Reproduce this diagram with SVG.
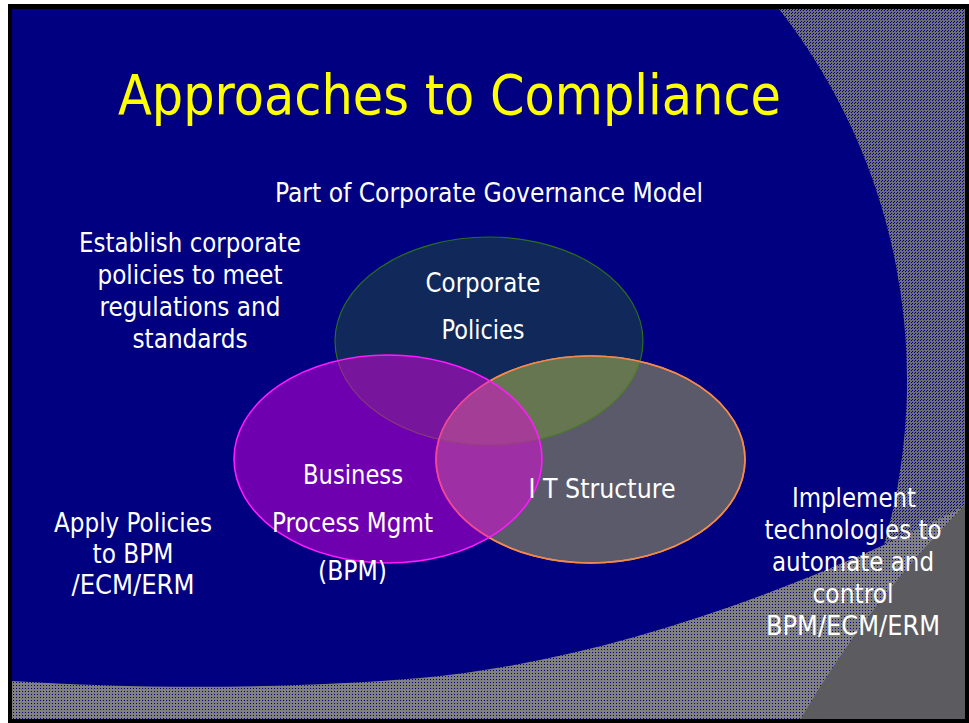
<svg xmlns="http://www.w3.org/2000/svg" width="969" height="723" viewBox="0 0 969 723">
  <style>
    .lbl { font-family: "DejaVu Sans Condensed", "DejaVu Sans", sans-serif; font-size: 26px; fill: #ffffff; text-anchor: middle; }
    .title { font-family: "DejaVu Sans Condensed", "DejaVu Sans", sans-serif; font-size: 55px; fill: #ffff00; }
    .corp { fill: #10295a; stroke: #2a6e1e; stroke-width: 1.2; }
    .it { fill: #5a5a6a; stroke: #f4894b; stroke-width: 1.6; }
    .bpm { fill: #e800e4; fill-opacity: 0.48; stroke: #ff1aff; stroke-width: 1.6; }
  </style>
  <defs>
    <pattern id="dots-dark" width="3" height="3" patternUnits="userSpaceOnUse">
      <rect width="3" height="3" fill="#6e6e78"/>
      <rect x="0" y="0" width="1" height="1" fill="#000080"/>
      <rect x="2" y="1" width="1" height="1" fill="#000080"/>
    </pattern>
    <pattern id="dots-light" width="3" height="3" patternUnits="userSpaceOnUse">
      <rect width="3" height="3" fill="#808080"/>
      <rect x="1" y="1" width="1" height="1" fill="#000080"/>
    </pattern>
    <clipPath id="slide-area">
      <rect x="12" y="9" width="953" height="710"/>
    </clipPath>
    <clipPath id="it-shape">
      <ellipse cx="590.5" cy="459.5" rx="154.5" ry="103.5"/>
    </clipPath>
  </defs>

  <!-- page, frame and slide background -->
  <rect width="969" height="723" fill="#ffffff"/>
  <rect x="8" y="4" width="961" height="719" fill="#000000"/>
  <rect x="12" y="9" width="953" height="710" fill="#000080"/>

  <!-- decorative grey sweeps -->
  <g id="background-sweeps" clip-path="url(#slide-area)">
    <path d="M 779,9 A 602 602 0 0 1 884,545 L 965,545 L 965,9 Z" fill="url(#dots-dark)"/>
    <path d="M 12,681 C 150,690 300,688 420,678 C 600,662 800,590 965,506 L 965,719 L 12,719 Z" fill="url(#dots-light)"/>
    <path d="M 967,503 Q 870,600 800,720 L 965,720 Z" fill="#5c5c60"/>
  </g>

  <!-- title -->
  <text class="title" x="118" y="114" textLength="663" lengthAdjust="spacingAndGlyphs">Approaches to Compliance</text>

  <!-- free text -->
  <g id="free-text">
    <text class="lbl" x="489" y="202" textLength="428" lengthAdjust="spacingAndGlyphs">Part of Corporate Governance Model</text>
    <text class="lbl" x="190" y="252" textLength="222" lengthAdjust="spacingAndGlyphs">Establish corporate</text>
    <text class="lbl" x="190" y="284" textLength="185" lengthAdjust="spacingAndGlyphs">policies to meet</text>
    <text class="lbl" x="190" y="316" textLength="181" lengthAdjust="spacingAndGlyphs">regulations and</text>
    <text class="lbl" x="190" y="348" textLength="115" lengthAdjust="spacingAndGlyphs">standards</text>

    <text class="lbl" x="133" y="532" textLength="158" lengthAdjust="spacingAndGlyphs">Apply Policies</text>
    <text class="lbl" x="133" y="563" textLength="81" lengthAdjust="spacingAndGlyphs">to BPM</text>
    <text class="lbl" x="133" y="594" textLength="123" lengthAdjust="spacingAndGlyphs">/ECM/ERM</text>

    <text class="lbl" x="854" y="507" textLength="124" lengthAdjust="spacingAndGlyphs">Implement</text>
    <text class="lbl" x="853" y="539" textLength="177" lengthAdjust="spacingAndGlyphs">technologies to</text>
    <text class="lbl" x="853" y="571" textLength="162" lengthAdjust="spacingAndGlyphs">automate and</text>
    <text class="lbl" x="853" y="603" textLength="81" lengthAdjust="spacingAndGlyphs">control</text>
    <text class="lbl" x="853" y="635" textLength="174" lengthAdjust="spacingAndGlyphs">BPM/ECM/ERM</text>
  </g>

  <!-- Venn nodes -->
  <g id="node-corporate-policies">
    <ellipse class="corp" cx="489" cy="341" rx="154" ry="104"/>
  </g>

  <g id="node-it-structure">
    <ellipse class="it" cx="590.5" cy="459.5" rx="154.5" ry="103.5"/>
    <!-- overlap with the policies circle -->
    <ellipse cx="489" cy="341" rx="154" ry="104" fill="#667650" clip-path="url(#it-shape)"/>
    <ellipse cx="489" cy="341" rx="154" ry="104" fill="none" stroke="#4f7a2a" stroke-width="1.2" clip-path="url(#it-shape)"/>
    <ellipse cx="590.5" cy="459.5" rx="154.5" ry="103.5" fill="none" stroke="#f4894b" stroke-width="1.6"/>
  </g>

  <g id="node-bpm">
    <ellipse class="bpm" cx="388" cy="459" rx="154" ry="104"/>
  </g>

  <!-- node labels -->
  <g id="node-labels">
    <text class="lbl" x="483" y="292" textLength="115" lengthAdjust="spacingAndGlyphs">Corporate</text>
    <text class="lbl" x="483" y="339" textLength="83" lengthAdjust="spacingAndGlyphs">Policies</text>
    <text class="lbl" x="602" y="498" textLength="147" lengthAdjust="spacingAndGlyphs">I T Structure</text>
    <text class="lbl" x="353" y="484" textLength="100" lengthAdjust="spacingAndGlyphs">Business</text>
    <text class="lbl" x="352.5" y="532" textLength="161" lengthAdjust="spacingAndGlyphs">Process Mgmt</text>
    <text class="lbl" x="352.5" y="580" textLength="69" lengthAdjust="spacingAndGlyphs">(BPM)</text>
  </g>
</svg>
